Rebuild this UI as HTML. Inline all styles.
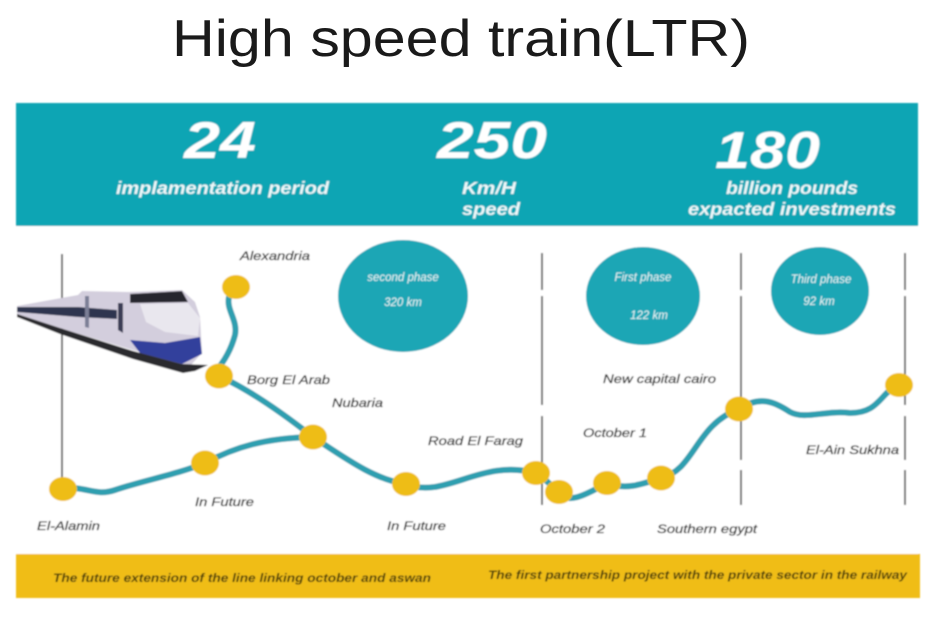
<!DOCTYPE html>
<html lang="en">
<head>
<meta charset="utf-8">
<title>High speed train (LTR)</title>
<style>
html,body{margin:0;padding:0;background:#fff;width:940px;height:619px;overflow:hidden}
svg{display:block}
text{font-family:"Liberation Sans",sans-serif}
.lbl{font-size:11.5px;font-style:italic;fill:#2a2a2a;stroke:#2a2a2a;stroke-width:.25}
.hd{font-size:17.5px;font-style:italic;font-weight:700;fill:#fff;opacity:.93}
.num{font-size:52px;font-style:italic;font-weight:700;fill:#fff}
.bub{font-size:11.5px;font-style:italic;fill:#e6f6f7;text-anchor:middle}
.foot{font-size:11.5px;font-style:italic;font-weight:700;fill:#4a3d10}
.vl{stroke:#6a6a6a;stroke-width:2;fill:none}
.nd{fill:#eebd12}
.rt{fill:none;stroke:#2f9fb0;stroke-width:6;stroke-linecap:round;stroke-linejoin:round}
</style>
</head>
<body>
<svg width="940" height="619" viewBox="0 0 940 619">
<defs><filter id="soft" x="-5%" y="-5%" width="110%" height="110%"><feGaussianBlur stdDeviation="0.8"/></filter></defs>
<rect width="940" height="619" fill="#fff"/>
<text x="172" y="56" font-size="52" fill="#1a1a1a" textLength="578" lengthAdjust="spacingAndGlyphs">High speed train(LTR)</text>

<g filter="url(#soft)">
<rect x="16" y="103" width="902" height="123" fill="#10a5b4"/>
<text class="num" x="184" y="158" textLength="72" lengthAdjust="spacingAndGlyphs">24</text>
<text class="num" x="437" y="158" textLength="110" lengthAdjust="spacingAndGlyphs">250</text>
<text class="num" x="715" y="168" textLength="105" lengthAdjust="spacingAndGlyphs">180</text>
<text class="hd" x="116" y="194" textLength="213" lengthAdjust="spacingAndGlyphs">implamentation period</text>
<text class="hd" x="462" y="194" textLength="54" lengthAdjust="spacingAndGlyphs">Km/H</text>
<text class="hd" x="462" y="215" textLength="58" lengthAdjust="spacingAndGlyphs">speed</text>
<text class="hd" x="726" y="194" textLength="132" lengthAdjust="spacingAndGlyphs">billion pounds</text>
<text class="hd" x="688" y="215" textLength="208" lengthAdjust="spacingAndGlyphs">expacted investments</text>

<rect x="16" y="226" width="902" height="328" fill="#fff"/>

<g>
<path class="vl" d="M62 254V495"/>
<path class="vl" d="M542 253V290M542 296V405M542 416V505"/>
<path class="vl" d="M741 253V290M741 296V460M741 470V505"/>
<path class="vl" d="M905 253V290M905 296V405M905 416V460M905 470V505"/>
</g>

<g>
<ellipse cx="403" cy="296" rx="65" ry="56" fill="#1ea6b5"/>
<text class="bub" x="403" y="281">second phase</text>
<text class="bub" x="403" y="306">320 km</text>
</g>
<g>
<ellipse cx="643" cy="296" rx="57" ry="49" fill="#1ea6b5"/>
<text class="bub" x="643" y="281">First phase</text>
<text class="bub" x="649" y="319">122 km</text>
</g>
<g>
<ellipse cx="820" cy="291" rx="49" ry="44" fill="#1ea6b5"/>
<text class="bub" x="821" y="283">Third phase</text>
<text class="bub" x="819" y="305">92 km</text>
</g>

<g>
<polygon points="17,306 78,295 82,291 128,292 182,290 195,302 200,317 202,353 190,366 133,350 60,328 17,314" fill="#d3cedd"/>
<polygon points="17,307 78,307 117,310 117,319 78,317 17,312" fill="#2f3450"/>
<polygon points="130,294 182,291 188,302 130,303" fill="#26262e"/>
<polygon points="140,304 188,303 200,318 198,336 165,332 146,322" fill="#e9e7ee"/>
<polygon points="85,296 89,296 89,328 85,327" fill="#7b7f96"/>
<polygon points="118,303 123,303 123,333 118,330" fill="#3a3d55"/>
<polygon points="130,340 165,343 200,337 202,354 182,364 140,353" fill="#333f9c"/>
<polygon points="17,314 60,328 133,351 182,364 208,365 195,371 183,373 133,359 60,334 17,317" fill="#2a2a2f"/>
</g>

<g>
<path class="rt" d="M229 297C226 310 238 320 235 335C231 350 223 363 215 372"/>
<path class="rt" d="M219 376C250 390 285 415 313 437C345 458 375 480 406 484C445 500 480 458 536 473C545 478 552 487 559 492C568 505 585 495 607 483C625 490 640 485 661 478C695 470 695 425 739 409C760 395 775 402 790 412C805 420 825 410 850 413C880 413 880 392 899 385"/>
<path class="rt" d="M63 489C85 485 95 497 115 490C145 480 175 475 205 463C235 447 265 438 313 437"/>
</g>

<g>
<ellipse class="nd" cx="236" cy="287" rx="14" ry="12"/>
<ellipse class="nd" cx="219" cy="376" rx="14" ry="12.5"/>
<ellipse class="nd" cx="313" cy="437" rx="14" ry="12.5"/>
<ellipse class="nd" cx="406" cy="484" rx="14" ry="12"/>
<ellipse class="nd" cx="536" cy="473" rx="14" ry="12"/>
<ellipse class="nd" cx="559" cy="492" rx="14" ry="12"/>
<ellipse class="nd" cx="607" cy="483" rx="14" ry="12"/>
<ellipse class="nd" cx="661" cy="478" rx="14" ry="12.5"/>
<ellipse class="nd" cx="739" cy="409" rx="14" ry="12.5"/>
<ellipse class="nd" cx="899" cy="385" rx="14" ry="12"/>
<ellipse class="nd" cx="63" cy="489" rx="14" ry="12"/>
<ellipse class="nd" cx="205" cy="463" rx="14" ry="12.5"/>
</g>

<g>
<text class="lbl" x="240" y="260" textLength="70" lengthAdjust="spacingAndGlyphs">Alexandria</text>
<text class="lbl" x="247" y="384" textLength="83" lengthAdjust="spacingAndGlyphs">Borg El Arab</text>
<text class="lbl" x="332" y="407" textLength="51" lengthAdjust="spacingAndGlyphs">Nubaria</text>
<text class="lbl" x="428" y="445" textLength="95" lengthAdjust="spacingAndGlyphs">Road El Farag</text>
<text class="lbl" x="583" y="437" textLength="64" lengthAdjust="spacingAndGlyphs">October 1</text>
<text class="lbl" x="603" y="383" textLength="113" lengthAdjust="spacingAndGlyphs">New capital cairo</text>
<text class="lbl" x="806" y="454" textLength="93" lengthAdjust="spacingAndGlyphs">El-Ain Sukhna</text>
<text class="lbl" x="195" y="506" textLength="59" lengthAdjust="spacingAndGlyphs">In Future</text>
<text class="lbl" x="37" y="530" textLength="63" lengthAdjust="spacingAndGlyphs">El-Alamin</text>
<text class="lbl" x="387" y="530" textLength="59" lengthAdjust="spacingAndGlyphs">In Future</text>
<text class="lbl" x="540" y="533" textLength="65" lengthAdjust="spacingAndGlyphs">October 2</text>
<text class="lbl" x="657" y="533" textLength="100" lengthAdjust="spacingAndGlyphs">Southern egypt</text>
</g>

<rect x="16" y="554" width="904" height="44" fill="#f0bd17"/>
<text class="foot" x="53" y="582" textLength="378" lengthAdjust="spacingAndGlyphs">The future extension of the line linking october and aswan</text>
<text class="foot" x="488" y="579" textLength="419" lengthAdjust="spacingAndGlyphs">The first partnership project with the private sector in the railway</text>
</g>
</svg>
</body>
</html>
